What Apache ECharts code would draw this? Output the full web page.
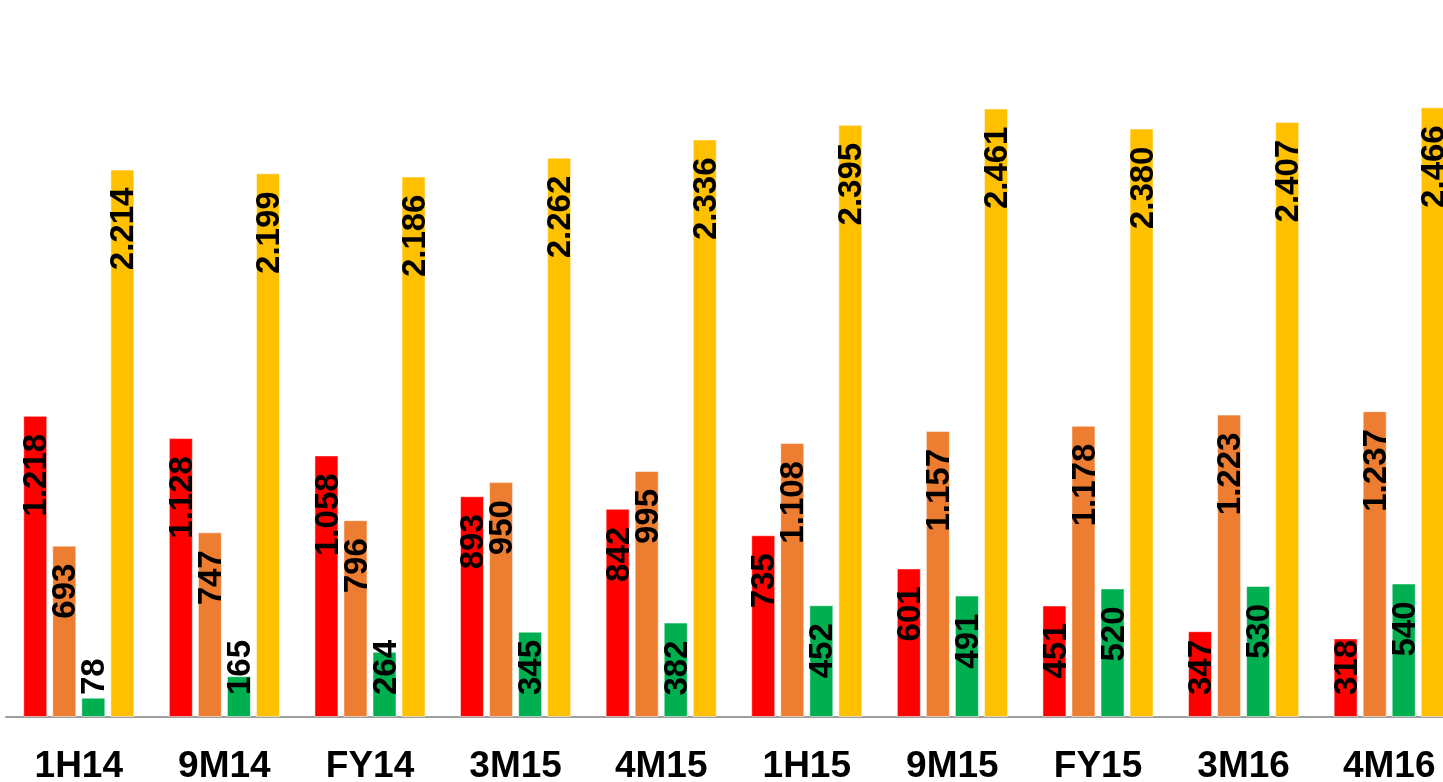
<!DOCTYPE html>
<html>
<head>
<meta charset="utf-8">
<script src="https://cdn.jsdelivr.net/npm/echarts@6/dist/echarts.min.js"></script>
<style>
  html, body { margin: 0; padding: 0; background: #fff; }
  #chart { width: 1443px; height: 782px; }
</style>
</head>
<body>
<div id="chart"></div>
<script>
// periods
const categories = ['1H14', '9M14', 'FY14', '3M15', '4M15', '1H15', '9M15', 'FY15', '3M16', '4M16'];
// series values
const redValues = [1218, 1128, 1058, 893, 842, 735, 601, 451, 347, 318];
const orangeValues = [693, 747, 796, 950, 995, 1108, 1157, 1178, 1223, 1237];
const greenValues = [78, 165, 264, 345, 382, 452, 491, 520, 530, 540];
const yellowValues = [2214, 2199, 2186, 2262, 2336, 2395, 2461, 2380, 2407, 2466];

const colors = ['#FF0000', '#ED7D31', '#00B050', '#FFC000'];
const font = '"Liberation Sans", Arial, sans-serif';
const LABEL_FIT = 350; // bars shorter than this get their label pushed up from the bottom

// 1.218 style: dot as thousands separator
function fmt(v) {
  if (v >= 1000) return Math.floor(v / 1000) + '.' + String(v % 1000).padStart(3, '0');
  return String(v);
}

function toData(values) {
  return values.map(v => v < LABEL_FIT
    ? { value: v, label: { position: 'insideBottom', align: 'left', distance: 22 } }
    : v);
}

function makeSeries(values, idx) {
  return {
    type: 'bar',
    data: toData(values),
    barWidth: 24,
    barGap: '21%',
    itemStyle: { color: colors[idx], borderColor: 'rgba(255,255,255,0.5)', borderWidth: 1 },
    label: {
      show: true,
      position: 'insideTop',
      rotate: 90,
      align: 'right',
      verticalAlign: 'middle',
      distance: 18,
      offset: [0, 2], // rotated frame: nudges the text right, into the bar centre
      color: '#000',
      fontFamily: font,
      fontWeight: 'bold',
      fontSize: 33,
      formatter: p => fmt(p.value)
    }
  };
}

const chart = echarts.init(document.getElementById('chart'));
chart.setOption({
  animation: false,
  backgroundColor: '#fff',
  // the last group runs past the right edge, like the original crop
  grid: { left: 6, right: -19, top: 0, bottom: 65, containLabel: false, outerBoundsMode: 'none' },
  xAxis: {
    type: 'category',
    data: categories,
    axisLine: { show: true, lineStyle: { color: '#9e9e9e', width: 2 } },
    axisTick: { show: false },
    axisLabel: {
      margin: 31,
      color: '#000',
      fontFamily: font,
      fontWeight: 'bold',
      fontSize: 37
    }
  },
  yAxis: {
    type: 'value',
    min: 0,
    max: 2900,
    show: false,
    splitLine: { show: false }
  },
  series: [
    makeSeries(redValues, 0),
    makeSeries(orangeValues, 1),
    makeSeries(greenValues, 2),
    makeSeries(yellowValues, 3)
  ]
});
</script>
</body>
</html>
